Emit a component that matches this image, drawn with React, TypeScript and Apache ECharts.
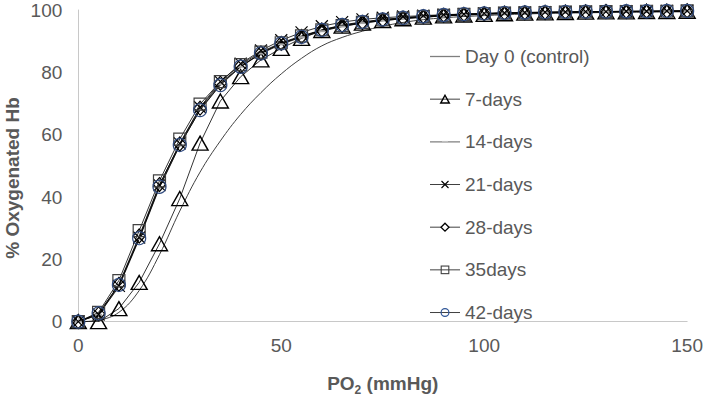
import React, { useEffect, useRef } from "react";
import * as echarts from "echarts";

const po2 = [0, 5, 10, 15, 20, 25, 30, 35, 40, 45, 50, 55, 60, 65, 70, 75, 80, 85, 90, 95, 100, 105, 110, 115, 120, 125, 130, 135, 140, 145, 150];

const day0 = [0, 0.5, 3, 10, 21.5, 35.5, 48, 58, 66.5, 73.5, 79.5, 84.5, 88.5, 91.2, 93.2, 94.8, 96, 96.9, 97.5, 97.9, 98.2, 98.5, 98.7, 98.9, 99, 99.1, 99.2, 99.3, 99.3, 99.4, 99.4];
const days7 = [0, 0, 4.2, 12.6, 25, 39.5, 57.3, 70.8, 78.6, 84, 87.7, 90.9, 93.4, 94.8, 95.8, 96.6, 97.2, 97.7, 98.1, 98.4, 98.6, 98.8, 99, 99.1, 99.2, 99.3, 99.4, 99.4, 99.5, 99.5, 99.6];
const days14 = [0, 2.2, 11.2, 26.5, 43, 56.5, 68, 76.2, 81.8, 86, 89, 91.3, 93.2, 94.7, 95.8, 96.6, 97.2, 97.7, 98.1, 98.4, 98.7, 98.9, 99, 99.1, 99.2, 99.3, 99.4, 99.5, 99.5, 99.6, 99.6];
const days21 = [0, 2.3, 11.5, 27, 43.8, 57.2, 68.8, 77, 82.8, 87, 90.3, 92.8, 94.8, 96.1, 97, 97.5, 97.9, 98.2, 98.5, 98.7, 98.9, 99.1, 99.2, 99.3, 99.4, 99.5, 99.5, 99.6, 99.6, 99.7, 99.7];
const days28 = [0, 2.5, 12, 27.5, 44, 57, 68.5, 76.5, 82, 86.2, 89.3, 91.5, 93.5, 95, 96, 96.8, 97.4, 97.9, 98.3, 98.6, 98.8, 99, 99.1, 99.2, 99.3, 99.4, 99.5, 99.5, 99.6, 99.6, 99.7];
const days35 = [0, 3, 13.2, 29.2, 45.2, 58.6, 69.8, 77, 82.5, 86.5, 89.5, 91.7, 93.6, 95, 96, 96.8, 97.4, 97.9, 98.3, 98.6, 98.8, 99, 99.1, 99.2, 99.3, 99.4, 99.5, 99.5, 99.6, 99.6, 99.7];
const days42 = [0, 2.7, 11.8, 26.8, 43.3, 56.7, 67.9, 75.9, 81.8, 86.1, 89.3, 91.4, 93.6, 95.2, 96.2, 97, 97.5, 98, 98.4, 98.7, 98.9, 99.1, 99.2, 99.3, 99.4, 99.5, 99.5, 99.6, 99.6, 99.7, 99.7];

const seriesNames = ["Day 0 (control)", "7-days", "14-days", "21-days", "28-days", "35days", "42-days"];
const xTitle = "PO2 (mmHg)";
const yTitle = "% Oxygenated Hb";

const FONT = "'Liberation Sans', Arial, sans-serif";
const TXT = "#595959";

const toPts = (arr: number[]) => po2.map((x, i) => [x, arr[i]]);

// legend icons (30 x 11 box): line + marker
const icon = (inner: string, lineColor = "#404040", lineW = 1) =>
  "image://data:image/svg+xml;utf8," +
  encodeURIComponent(
    `<svg xmlns="http://www.w3.org/2000/svg" width="30" height="11" viewBox="0 0 30 11">` +
      `<line x1="0" y1="5.5" x2="30" y2="5.5" stroke="${lineColor}" stroke-width="${lineW}"/>` +
      inner +
      `</svg>`
  );

const legendIcons = [
  icon("", "#7F7F7F", 1.3),
  icon(`<polygon points="15,1.6 19.3,9.4 10.7,9.4" fill="none" stroke="#000" stroke-width="1.4"/>`),
  icon(`<rect x="12" y="4.6" width="6" height="1.8" fill="#BFBFBF"/>`, "#7F7F7F", 1.2),
  icon(`<path d="M11.5,2 L18.5,9 M18.5,2 L11.5,9" stroke="#000" stroke-width="1.1" fill="none"/>`),
  icon(`<polygon points="15,1.5 19,5.5 15,9.5 11,5.5" fill="#fff" stroke="#000" stroke-width="1.3"/>`),
  icon(`<rect x="11.2" y="1.7" width="7.6" height="7.6" fill="none" stroke="#404040" stroke-width="1.1"/>`),
  icon(`<circle cx="15" cy="5.5" r="3.9" fill="none" stroke="#2F5597" stroke-width="1.2"/>`),
];

export default function App() {
  const ref = useRef<HTMLDivElement>(null);
  useEffect(() => {
    if (!ref.current) return;
    const chart = echarts.init(ref.current, null, { renderer: "svg" });

    const markerSeries = (
      name: string,
      data: number[],
      symbol: string,
      size: number | number[],
      stroke: string,
      fill = "transparent",
      bw = 1.2
    ) => ({
      name,
      type: "line",
      data: toPts(data),
      symbol,
      symbolSize: size,
      showSymbol: true,
      lineStyle: { color: "#000", width: 0.8 },
      itemStyle: { color: fill, borderColor: stroke, borderWidth: bw },
      emphasis: { disabled: true },
    });

    const option: any = {
      animation: false,
      textStyle: { fontFamily: FONT },
      grid: { left: 78.3, right: 15.1, top: 10, bottom: 79.3, containLabel: false },
      xAxis: {
        type: "value",
        min: 0,
        max: 150,
        interval: 50,
        name: "{b|PO}{s|2}{b| (mmHg)}",
        nameLocation: "middle",
        nameGap: 50,
        nameTextStyle: {
          rich: {
            b: { fontSize: 19, fontWeight: "bold", color: TXT, fontFamily: FONT, lineHeight: 24 },
            s: { fontSize: 12, fontWeight: "bold", color: TXT, fontFamily: FONT, verticalAlign: "bottom", lineHeight: 12 },
          },
        },
        axisLine: { show: true, lineStyle: { color: "#C8C8C8", width: 1 } },
        axisTick: { show: false },
        splitLine: { show: false },
        axisLabel: { color: TXT, fontSize: 19, margin: 14, fontFamily: FONT },
      },
      yAxis: {
        type: "value",
        min: 0,
        max: 100,
        interval: 20,
        axisLine: { show: true, lineStyle: { color: "#C8C8C8", width: 1 } },
        axisTick: { show: false },
        splitLine: { show: false },
        axisLabel: { color: TXT, fontSize: 19, margin: 16, fontFamily: FONT },
      },
      legend: {
        orient: "vertical",
        left: 425,
        top: 41.5,
        itemWidth: 30,
        itemHeight: 11,
        itemGap: 22.67,
        textStyle: { color: TXT, fontSize: 19, fontFamily: FONT, lineHeight: 20 },
        selectedMode: false,
        data: seriesNames.map((name, i) => ({ name, icon: legendIcons[i] })),
      },
      graphic: [
        {
          type: "text",
          x: 12,
          y: 178,
          rotation: Math.PI / 2,
          style: {
            text: yTitle,
            fill: TXT,
            font: `bold 19px ${FONT}`,
            align: "center",
            verticalAlign: "middle",
          },
        },
      ],
      series: [
        {
          name: seriesNames[0],
          type: "line",
          data: toPts(day0),
          symbol: "none",
          smooth: 0.4,
          lineStyle: { color: "#404040", width: 1 },
          itemStyle: { color: "#404040" },
          emphasis: { disabled: true },
        },
        markerSeries(seriesNames[1], days7, "triangle", [16, 14], "#000", "transparent", 1.4),
        markerSeries(seriesNames[2], days14, "path://M0,0H10V3H0Z", [7, 2], "#A6A6A6", "#A6A6A6", 0),
        markerSeries(seriesNames[3], days21, "path://M0,0L10,10M10,0L0,10", 12, "#000"),
        markerSeries(seriesNames[4], days28, "diamond", [12, 14], "#000"),
        markerSeries(seriesNames[5], days35, "rect", 12, "#404040"),
        markerSeries(seriesNames[6], days42, "circle", 13, "#2F4A7E"),
      ],
    };
    chart.setOption(option);
    return () => chart.dispose();
  }, []);

  return (
    <div
      ref={ref}
      data-x-title={xTitle}
      style={{ position: "fixed", left: 0, top: 0, width: 706, height: 401, background: "#fff" }}
    />
  );
}
